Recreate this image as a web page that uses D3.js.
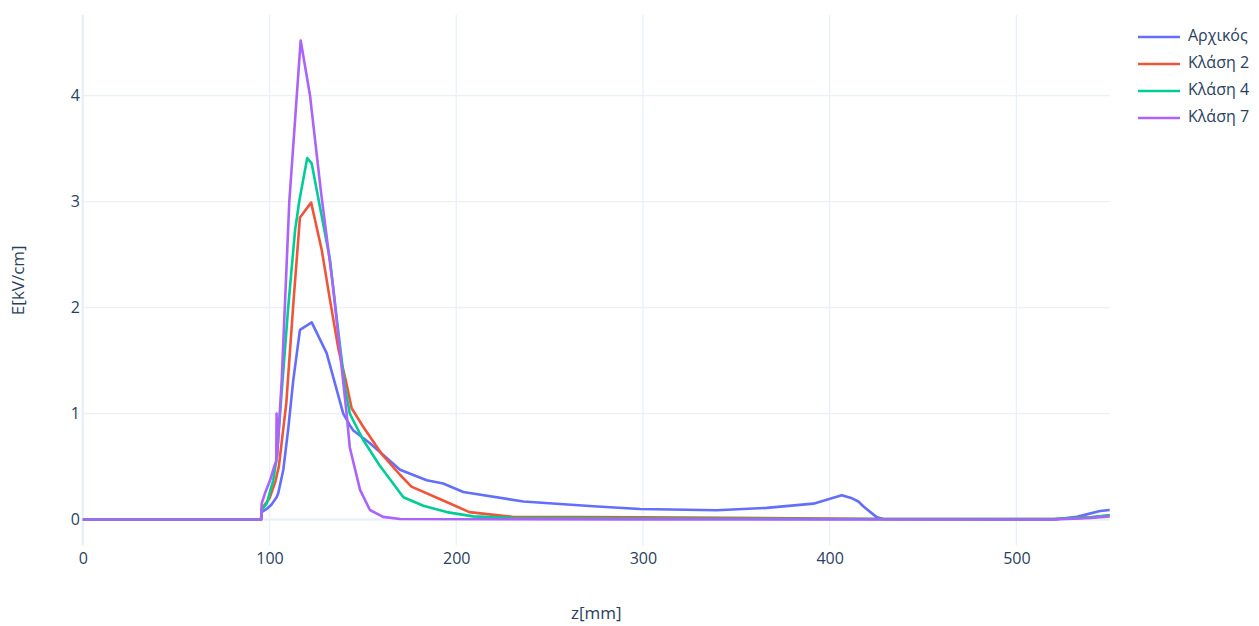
<!DOCTYPE html>
<html>
<head>
<meta charset="utf-8">
<script src="https://cdn.jsdelivr.net/npm/d3@7"></script>
<style>
  html, body { margin: 0; padding: 0; background: #fff; }
  svg { display: block; }
  text { font-family: "Open Sans", "Noto Sans", sans-serif; fill: #2a3f5f; }
</style>
</head>
<body>
<svg id="chart" width="1259" height="626"></svg>
<script>
// ---- data ----
const seriesNames = ["Αρχικός", "Κλάση 2", "Κλάση 4", "Κλάση 7"];
const seriesColors = ["#636efa", "#EF553B", "#00cc96", "#ab63fa"];

const zInitial = [0, 95.5, 95.8, 98.5, 101, 103.8, 104.7, 107.4, 110, 112.7, 116.3, 122.6, 130.6, 139.5, 143, 144.9, 153.8, 169.9, 184.2, 193, 203.8, 236, 273.4, 298.4, 339.5, 366.3, 391.3, 406.5, 412, 415.4, 418, 425, 428.7, 520, 532.4, 544.8, 550];
const eInitial = [0, 0, 0.07, 0.10, 0.14, 0.21, 0.25, 0.47, 0.85, 1.31, 1.79, 1.86, 1.57, 1.0, 0.89, 0.84, 0.72, 0.47, 0.37, 0.34, 0.26, 0.17, 0.125, 0.10, 0.088, 0.11, 0.15, 0.23, 0.20, 0.17, 0.125, 0.025, 0.005, 0, 0.025, 0.08, 0.09];

const zClass2 = [0, 95.5, 95.8, 100, 103, 105, 109, 112.6, 116.3, 122.3, 128, 132.4, 137, 141, 144, 150, 160, 170, 176, 193, 207, 230, 300, 400, 430, 520, 540, 550];
const eClass2 = [0, 0, 0.10, 0.20, 0.35, 0.5, 1.1, 2.0, 2.85, 2.99, 2.54, 2.07, 1.6, 1.3, 1.05, 0.88, 0.62, 0.42, 0.31, 0.18, 0.07, 0.025, 0.02, 0.01, 0.005, 0.005, 0.02, 0.04];

const zClass4 = [0, 95.5, 95.8, 98.5, 102, 104, 106.5, 110, 113.7, 116, 120.2, 122.6, 127, 132.4, 136, 140.4, 143, 150.2, 159, 171.7, 182.4, 194.9, 209, 230, 300, 400, 520, 540, 550];
const eClass4 = [0, 0, 0.09, 0.15, 0.37, 0.6, 1.2, 2.0, 2.73, 3.01, 3.41, 3.36, 2.95, 2.45, 1.9, 1.25, 1.0, 0.75, 0.51, 0.21, 0.13, 0.07, 0.03, 0.015, 0.01, 0.005, 0.005, 0.02, 0.04];

const zClass7 = [0, 95.5, 95.8, 97.6, 100.3, 102.5, 103.6, 103.8, 104.1, 106.5, 110.6, 116.7, 121.7, 127.5, 134, 141.3, 143, 148.5, 153.8, 160.8, 170, 300, 520, 540, 550];
const eClass7 = [0, 0, 0.15, 0.25, 0.37, 0.5, 0.55, 1.0, 0.6, 1.3, 3.0, 4.52, 4.0, 3.1, 2.2, 1.0, 0.68, 0.28, 0.09, 0.025, 0.005, 0, 0, 0.015, 0.03];

const xTicks = [0, 100, 200, 300, 400, 500];
const yTicks = [0, 1, 2, 3, 4];
const xTitle = "z[mm]";
const yTitle = "E[kV/cm]";

const zs = [zInitial, zClass2, zClass4, zClass7];
const es = [eInitial, eClass2, eClass4, eClass7];
const series = seriesNames.map((name, i) => ({
  name, color: seriesColors[i],
  points: zs[i].map((z, j) => ({ z, e: es[i][j] }))
}));

// ---- layout ----
const svg = d3.select("#chart");
const L = 82.8, R = 1109.7, T = 15, B = 545.5;
const x = d3.scaleLinear().domain([0, 550]).range([L, R]);
const y = d3.scaleLinear().domain([-0.245, 4.76]).range([B, T]);
const grid = "#EBF0F8";

// grid lines
svg.append("g").selectAll("line").data(xTicks.filter(d => d !== 0)).join("line")
  .attr("x1", d => x(d)).attr("x2", d => x(d)).attr("y1", T).attr("y2", B)
  .attr("stroke", grid).attr("stroke-width", 1.3);
svg.append("g").selectAll("line").data(yTicks.filter(d => d !== 0)).join("line")
  .attr("x1", L).attr("x2", R).attr("y1", d => y(d)).attr("y2", d => y(d))
  .attr("stroke", grid).attr("stroke-width", 1.3);
// zero lines
svg.append("line").attr("x1", x(0)).attr("x2", x(0)).attr("y1", T).attr("y2", B)
  .attr("stroke", grid).attr("stroke-width", 2.6);
svg.append("line").attr("x1", L).attr("x2", R).attr("y1", y(0)).attr("y2", y(0))
  .attr("stroke", grid).attr("stroke-width", 2.6);

// axes (labels only)
const xAxis = d3.axisBottom(x).tickValues(xTicks).tickFormat(d3.format("d")).tickSize(0).tickPadding(0);
const gx = svg.append("g").attr("transform", `translate(0,${B + 13})`).call(xAxis);
gx.select(".domain").remove();
gx.selectAll("text").attr("font-size", 16).attr("fill", "#2a3f5f")
  .attr("font-family", '"Open Sans", sans-serif').attr("dy", "0.32em").attr("y", 0);

const yAxis = d3.axisLeft(y).tickValues(yTicks).tickFormat(d3.format("d")).tickSize(0).tickPadding(0);
const gy = svg.append("g").attr("transform", `translate(${L - 3},0)`).call(yAxis);
gy.select(".domain").remove();
gy.selectAll("text").attr("font-size", 16).attr("fill", "#2a3f5f")
  .attr("font-family", '"Open Sans", sans-serif').attr("x", 0);

// axis titles
svg.append("text").attr("x", (L + R) / 2).attr("y", 614).attr("text-anchor", "middle")
  .attr("dominant-baseline", "middle").attr("font-size", 17).text(xTitle);
svg.append("text").attr("transform", `translate(19,${(T + B) / 2}) rotate(-90)`)
  .attr("text-anchor", "middle").attr("dominant-baseline", "middle")
  .attr("font-size", 17).text(yTitle);

// lines
const clipId = "plotclip";
svg.append("clipPath").attr("id", clipId).append("rect")
  .attr("x", L).attr("y", T - 2).attr("width", R - L).attr("height", B - T + 2);
const line = d3.line().x(d => x(d.z)).y(d => y(d.e));
svg.append("g").attr("clip-path", `url(#${clipId})`).selectAll("path").data(series).join("path")
  .attr("d", d => line(d.points))
  .attr("fill", "none").attr("stroke", d => d.color).attr("stroke-width", 2.6)
  .attr("stroke-linejoin", "round").attr("stroke-linecap", "round");

// legend
const lg = svg.append("g").attr("transform", "translate(1138,37)");
const items = lg.selectAll("g").data(series).join("g")
  .attr("transform", (d, i) => `translate(0,${i * 27})`);
items.append("line").attr("x1", 0).attr("x2", 42).attr("y1", 0).attr("y2", 0)
  .attr("stroke", d => d.color).attr("stroke-width", 2.6);
items.append("text").attr("x", 50).attr("y", 0).attr("dominant-baseline", "middle")
  .attr("font-size", 16).text(d => d.name);
</script>
</body>
</html>
